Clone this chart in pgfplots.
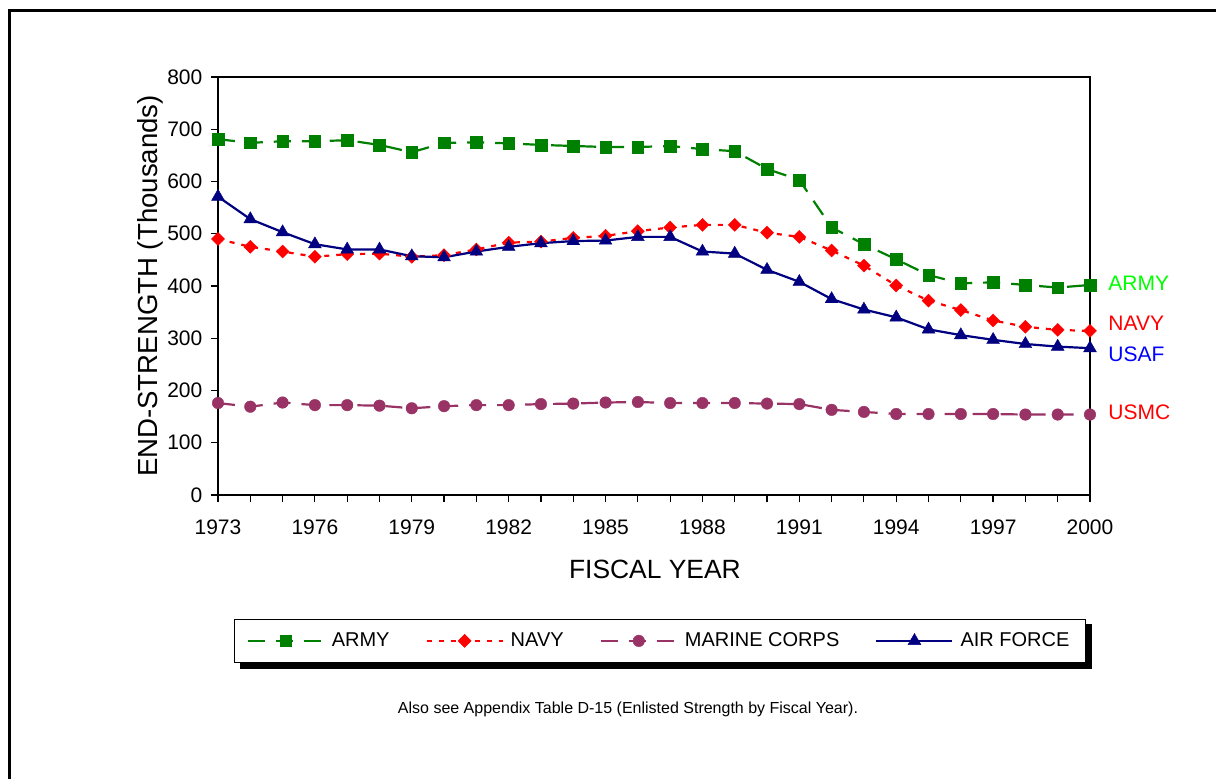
\documentclass[border=0pt]{standalone}
\usepackage{fontspec}
\setmainfont{Liberation Sans}
\usepackage{pgfplots}
\usepackage{pgfplotstable}
\pgfplotsset{compat=1.18}
\pgfdeclarelayer{background}
\pgfsetlayers{background,main}

\definecolor{armygreen}{RGB}{0,128,0}
\definecolor{navyred}{RGB}{255,0,0}
\definecolor{usmcpurple}{RGB}{153,51,102}
\definecolor{afblue}{RGB}{0,0,128}
\definecolor{lblgreen}{RGB}{0,255,0}
\definecolor{lblblue}{RGB}{0,0,255}

\pgfplotstableread{
year army navy usmc af
1973 681 490 176 571
1974 674 475 169 528
1975 677 466 177 503
1976 677 456 172 480
1977 679 461 172 470
1978 670 462 171 470
1979 656 456 166 457
1980 674 459 170 455
1981 675 470 172 466
1982 673 483 172 475
1983 670 485 174 482
1984 668 492 175 486
1985 666 496 177 487
1986 666 505 178 494
1987 668 512 176 494
1988 662 517 176 466
1989 658 517 176 462
1990 624 502 175 431
1991 603 494 174 408
1992 512 468 163 375
1993 480 439 159 355
1994 451 401 155 340
1995 421 372 155 317
1996 405 354 155 306
1997 407 334 155 297
1998 402 322 154 289
1999 397 316 154 284
2000 402 314 154 281
}\datatable

\begin{document}
\begin{tikzpicture}
\useasboundingbox (0,0) rectangle (608pt,389pt);
\draw[line width=1.3pt] (4.8pt,-2pt) -- (4.8pt,383.8pt) -- (610pt,383.8pt);
\begin{axis}[
  at={(109pt,141.5pt)}, anchor=south west,
  scale only axis, width=436pt, height=209pt,
  xmin=1973, xmax=2000, ymin=0, ymax=800,
  clip=false,
  axis line style={line width=1pt},
  xtick={1973,1976,...,2000},
  minor xtick={1973,...,2000},
  ytick={0,100,...,800},
  tick align=outside,
  xtick pos=bottom, ytick pos=left,
  major tick length=3.5pt, minor tick length=3.5pt,
  tick style={line width=0.6pt, black},
  /pgf/number format/assume math mode=true,
  /pgf/number format/set thousands separator={},
  ticklabel style={font=\fontsize{10.5}{12}\selectfont},
  xticklabel style={yshift=-5.5pt},
  yticklabel style={xshift=-0.8pt},
  xlabel={FISCAL YEAR},
  ylabel={END-STRENGTH (Thousands)},
  every axis x label/.style={at={(axis description cs:0.501,-0.179)}, anchor=center, font=\fontsize{13.2}{15}\selectfont},
  every axis y label/.style={at={(axis description cs:-0.078,0.5)}, anchor=center, rotate=90, font=\fontsize{13.8}{15}\selectfont},
  legend columns=4,
  legend style={
    name=leg,
    at={(0.5069,-0.349)}, anchor=center,
    draw=black, line width=0.6pt, fill=white,
    font=\fontsize{10}{12}\selectfont,
    inner xsep=6pt, inner ysep=4.5pt,
    /tikz/every odd column/.style={column sep=1.5pt},
    /tikz/every even column/.style={column sep=16pt},
  },
  legend cell align=left,
  legend image code/.code={\draw[mark repeat=2,mark phase=2,#1] plot coordinates {(0pt,0pt) (19pt,0pt) (38pt,0pt)};},
]
\addplot[armygreen, line width=1.1pt, dash pattern=on 8.5pt off 5.5pt,
  mark=square*, mark size=2.9pt, mark options={solid, fill=armygreen, draw=armygreen, line width=0.2pt}]
  table[x=year, y=army] {\datatable};
\addlegendentry{ARMY}
\addplot[navyred, line width=1.1pt, dash pattern=on 2.5pt off 3.5pt,
  mark=square*, mark size=2.3pt, mark options={solid, rotate=45, fill=navyred, draw=navyred, line width=0.2pt}]
  table[x=year, y=navy] {\datatable};
\addlegendentry{NAVY}
\addplot[usmcpurple, line width=1.1pt, dash pattern=on 8.5pt off 5.5pt,
  mark=*, mark size=2.9pt, mark options={solid, fill=usmcpurple, draw=usmcpurple, line width=0.2pt}]
  table[x=year, y=usmc] {\datatable};
\addlegendentry{MARINE CORPS}
\addplot[afblue, line width=1.1pt,
  mark=triangle*, mark size=3.7pt, mark options={solid, fill=afblue, draw=afblue, line width=0.2pt}]
  table[x=year, y=af] {\datatable};
\addlegendentry{AIR FORCE}

\node[anchor=west, inner sep=0pt, xshift=9pt, text=lblgreen, font=\fontsize{10.5}{12}\selectfont] at (axis cs:2000,405.7) {ARMY};
\node[anchor=west, inner sep=0pt, xshift=9pt, text=navyred, font=\fontsize{10.5}{12}\selectfont] at (axis cs:2000,329.2) {NAVY};
\node[anchor=west, inner sep=0pt, xshift=9pt, text=lblblue, font=\fontsize{10.5}{12}\selectfont] at (axis cs:2000,269.9) {USAF};
\node[anchor=west, inner sep=0pt, xshift=9pt, text=navyred, font=\fontsize{10.5}{12}\selectfont] at (axis cs:2000,157.9) {USMC};
\end{axis}
\begin{pgfonlayer}{background}
\fill[black] ([shift={(2.8pt,-2.8pt)}]leg.south west) rectangle ([shift={(2.8pt,-2.8pt)}]leg.north east);
\end{pgfonlayer}
\node[font=\fontsize{8}{10}\selectfont] at (314pt,34.5pt) {Also see Appendix Table D-15 (Enlisted Strength by Fiscal Year).};
\end{tikzpicture}
\end{document}
